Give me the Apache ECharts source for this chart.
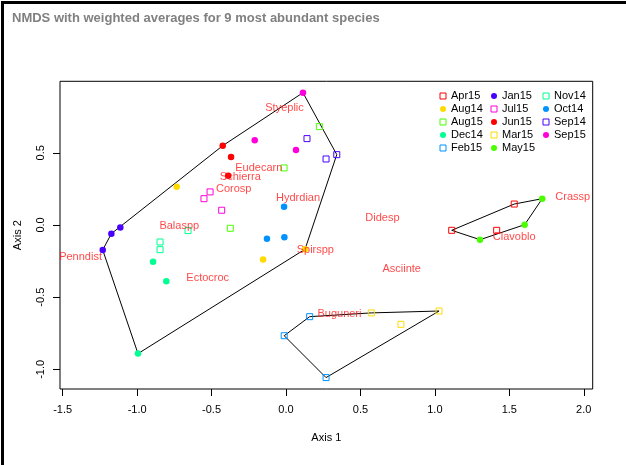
<!DOCTYPE html>
<html>
<head>
<meta charset="utf-8">
<script src="https://cdn.jsdelivr.net/npm/echarts@6/dist/echarts.min.js"></script>
<style>
html,body{margin:0;padding:0;background:#fff;}
#chart{width:626px;height:465px;}
</style>
</head>
<body>
<div id="chart"></div>
<script>
// ---- data ----
const months = ['Apr15','Aug14','Aug15','Dec14','Feb15','Jan15','Jul15','Jun15','Mar15','May15','Nov14','Oct14','Sep14','Sep15'];
const apr15 = [[1.113,-0.037],[1.533,0.145],[1.415,-0.037]];
const aug14 = [[-0.734,0.265],[-0.154,-0.240],[0.128,-0.168]];
const aug15 = [[0.224,0.681],[-0.013,0.395],[-0.374,-0.023]];
const dec14 = [[-0.893,-0.254],[-0.804,-0.390],[-0.994,-0.891]];
const feb15 = [[0.159,-0.635],[-0.012,-0.767],[0.269,-1.057]];
const jan15 = [[-1.113,-0.017],[-1.173,-0.060],[-1.231,-0.173]];
const jul15 = [[-0.510,0.229],[-0.551,0.182],[-0.432,0.102]];
const jun15 = [[-0.425,0.549],[-0.369,0.471],[-0.388,0.341]];
const mar15 = [[0.573,-0.609],[0.772,-0.688],[1.028,-0.596]];
const may15 = [[1.303,-0.102],[1.603,0.002],[1.721,0.182]];
const nov14 = [[-0.658,-0.039],[-0.846,-0.118],[-0.846,-0.171]];
const oct14 = [[-0.013,0.127],[-0.128,-0.095],[-0.011,-0.085]];
const sep14 = [[0.141,0.598],[0.341,0.487],[0.269,0.457]];
const sep15 = [[0.114,0.916],[0.067,0.519],[-0.210,0.587]];
const monthPoints = [apr15,aug14,aug15,dec14,feb15,jan15,jul15,jun15,mar15,may15,nov14,oct14,sep14,sep15];
// marker kind: 0 = open square, 1 = filled dot
const monthShape = [0,1,0,1,0,1,0,1,0,1,0,1,0,1];
const palette = ['#FF0000','#FFDB00','#49FF00','#00FF92','#0092FF','#4900FF','#FF00DB'];
const monthColorIdx = [0,1,2,3,4,5,6,0,1,2,3,4,5,6];

const speciesNames = ['Styeplic','Eudecarn','Schierra','Corosp','Hydrdian','Balaspp','Penndist','Ectocroc','Spirspp','Buguneri','Didesp','Asciinte','Crassp','Clavoblo'];
const speciesX = [-0.010,-0.183,-0.307,-0.351,0.081,-0.717,-1.380,-0.526,0.197,0.359,0.648,0.777,1.926,1.533];
const speciesY = [0.810,0.397,0.330,0.247,0.185,-0.007,-0.222,-0.369,-0.173,-0.618,0.050,-0.303,0.192,-0.085];

const hullGroups = [
  ['Aug14','Aug15','Dec14','Jan15','Jul15','Jun15','Nov14','Oct14','Sep14','Sep15'],
  ['Feb15','Mar15'],
  ['Apr15','May15']
];
const xTicks = [-1.5,-1.0,-0.5,0.0,0.5,1.0,1.5,2.0];
const yTicks = [-1.0,-0.5,0.0,0.5];
const legendCols = [
  ['Apr15','Aug14','Aug15','Dec14','Feb15'],
  ['Jan15','Jul15','Jun15','Mar15','May15'],
  ['Nov14','Oct14','Sep14','Sep15']
];

// ---- convex hull ----
function convexHull(pts){
  const p = pts.slice().sort((a,b)=>a[0]-b[0]||a[1]-b[1]);
  const cross=(o,a,b)=>(a[0]-o[0])*(b[1]-o[1])-(a[1]-o[1])*(b[0]-o[0]);
  const lower=[];
  for(const q of p){while(lower.length>=2&&cross(lower[lower.length-2],lower[lower.length-1],q)<=0)lower.pop();lower.push(q);}
  const upper=[];
  for(let i=p.length-1;i>=0;i--){const q=p[i];while(upper.length>=2&&cross(upper[upper.length-2],upper[upper.length-1],q)<=0)upper.pop();upper.push(q);}
  upper.pop();lower.pop();
  const h=lower.concat(upper);
  h.push(h[0]);
  return h;
}

const FONT = 'Liberation Sans, Arial, sans-serif';
const series = [];
hullGroups.forEach((g,i)=>{
  let pts=[];
  g.forEach(m=>{pts=pts.concat(monthPoints[months.indexOf(m)]);});
  series.push({
    type:'line', name:'hull'+i, data:convexHull(pts), symbol:'none', silent:true,
    lineStyle:{color:'#000',width:1}, itemStyle:{color:'#000'}, z:1, animation:false
  });
});
months.forEach((m,i)=>{
  const col = palette[monthColorIdx[i]];
  const open = monthShape[i]===0;
  series.push({
    type:'scatter', name:m, data:monthPoints[i],
    symbol: open ? 'rect' : 'circle',
    symbolSize: open ? 6 : 6.5,
    itemStyle: open ? {color:'rgba(255,255,255,0)', borderColor:col, borderWidth:1, opacity:1}
                    : {color:col, opacity:1},
    z:3, animation:false
  });
});
series.push({
  type:'scatter', name:'species', silent:true,
  data: speciesNames.map((n,i)=>({name:n, value:[speciesX[i],speciesY[i]]})),
  symbolSize:1, itemStyle:{color:'rgba(0,0,0,0)'},
  label:{show:true, position:'inside', formatter:p=>p.name, color:'#FF1A1A', fontSize:11, fontFamily:FONT},
  z:4, animation:false
});

const legendLefts = [439.5, 490.5, 542.5];
const legends = legendCols.map((c,i)=>({
  data:c, orient:'vertical', left:legendLefts[i], top:89.5,
  itemWidth:6, itemHeight:6, itemGap:0, padding:0, itemTextGap:6, selectedMode:false,
  itemStyle:{borderWidth:1},
  textStyle:{fontSize:11, fontFamily:FONT, color:'#000', lineHeight:13, height:13}
}));

const chart = echarts.init(document.getElementById('chart'), null, {renderer:'canvas'});
chart.setOption({
  animation:false,
  backgroundColor:'#fff',
  title:{text:'NMDS with weighted averages for 9 most abundant species', left:7, top:7,
    textStyle:{fontSize:13, fontWeight:'bold', color:'#808080', fontFamily:FONT}},
  legend:legends,
  grid:{left:60, right:33.3, top:81.3, bottom:76, show:true, borderColor:'#000', borderWidth:1, backgroundColor:'transparent'},
  xAxis:{type:'value', min:-1.518, max:2.06,
    name:'Axis 1', nameLocation:'middle', nameGap:43,
    nameTextStyle:{fontSize:11, fontFamily:FONT, color:'#000'},
    axisLine:{show:false, onZero:false}, splitLine:{show:false},
    axisTick:{show:true, customValues:xTicks, length:7, inside:false, lineStyle:{color:'#000'}},
    axisLabel:{customValues:xTicks, formatter:v=>v.toFixed(1), fontSize:11, fontFamily:FONT, color:'#000', margin:15}
  },
  yAxis:{type:'value', min:-1.136, max:0.995,
    name:'Axis 2', nameLocation:'middle', nameGap:37, nameRotate:90,
    nameTextStyle:{fontSize:11, fontFamily:FONT, color:'#000'},
    axisLine:{show:false, onZero:false}, splitLine:{show:false},
    axisTick:{show:true, customValues:yTicks, length:7, inside:false, lineStyle:{color:'#000'}},
    axisLabel:{customValues:yTicks, formatter:v=>v.toFixed(1), rotate:90, fontSize:11, fontFamily:FONT, color:'#000', margin:14}
  },
  graphic:[
    {type:'rect', shape:{x:1, y:1, width:3, height:465}, style:{fill:'#000'}, silent:true},
    {type:'rect', shape:{x:1, y:1, width:626, height:3}, style:{fill:'#000'}, silent:true}
  ],
  series:series
});
</script>
</body>
</html>
